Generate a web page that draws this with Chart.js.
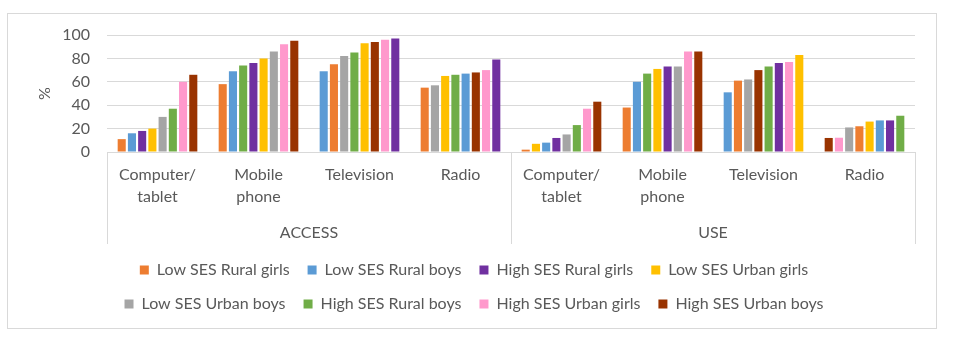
<!DOCTYPE html>
<html>
<head>
<meta charset="utf-8">
<script src="https://cdn.jsdelivr.net/npm/chart.js@4.4.1/dist/chart.umd.min.js"></script>
<style>
  html, body { margin: 0; padding: 0; background: #ffffff; }
  #wrap { width: 959px; height: 342px; }
</style>
</head>
<body>
<div id="wrap"><canvas id="chart" width="959" height="342"></canvas></div>
<script>
// Device categories, grouped under ACCESS and USE
const categories = [
  ['Computer/', 'tablet'], ['Mobile', 'phone'], ['Television'], ['Radio'],
  ['Computer/', 'tablet'], ['Mobile', 'phone'], ['Television'], ['Radio']
];
const groups = ['ACCESS', 'USE'];

const seriesNames = [
  'Low SES Rural girls', 'Low SES Rural boys', 'High SES Rural girls', 'Low SES Urban girls',
  'Low SES Urban boys', 'High SES Rural boys', 'High SES Urban girls', 'High SES Urban boys'
];
const seriesColors = [
  '#ED7D31', '#5B9BD5', '#7030A0', '#FFC000',
  '#A5A5A5', '#70AD47', '#FF99CC', '#993300'
];

// Percentages per category (ACCESS x4, then USE x4)
const lowRuralGirls   = [11, 58, 75, 55,  2, 38, 61, 22];
const lowRuralBoys    = [16, 69, 69, 67,  8, 60, 51, 27];
const highRuralGirls  = [18, 76, 97, 79, 12, 73, 76, 27];
const lowUrbanGirls   = [20, 80, 93, 65,  7, 71, 83, 26];
const lowUrbanBoys    = [30, 86, 82, 57, 15, 73, 62, 21];
const highRuralBoys   = [37, 74, 85, 66, 23, 67, 73, 31];
const highUrbanGirls  = [60, 92, 96, 70, 37, 86, 77, 12.2];
const highUrbanBoys   = [66, 95, 94, 68, 43, 86, 70, 12];

const yTicks = [0, 20, 40, 60, 80, 100];

const seriesValues = [
  lowRuralGirls, lowRuralBoys, highRuralGirls, lowUrbanGirls,
  lowUrbanBoys, highRuralBoys, highUrbanGirls, highUrbanBoys
];

// Within each category the bars run from smallest to largest value,
// so each drawn dataset is one "rank" slot coloured by the series that fills it.
const order = categories.map((_, c) =>
  seriesValues.map((_, s) => s).sort((a, b) => seriesValues[a][c] - seriesValues[b][c])
);
const datasets = seriesNames.map((_, rank) => ({
  label: 'slot ' + (rank + 1),
  data: categories.map((_, c) => seriesValues[order[c][rank]][c]),
  backgroundColor: categories.map((_, c) => seriesColors[order[c][rank]]),
  borderWidth: 0,
  categoryPercentage: 0.81,
  barPercentage: 0.79
}));

const TEXT = '#595959';
const LINE = '#D9D9D9';
const FONT = 'Lato, "Open Sans", sans-serif';
const FS = 16;

// Outer frame and the group separators below the category axis
const framePlugin = {
  id: 'frame',
  beforeDraw(chart) {
    const ctx = chart.ctx;
    ctx.save();
    ctx.fillStyle = '#ffffff';
    ctx.fillRect(0, 0, chart.width, chart.height);
    ctx.strokeStyle = LINE;
    ctx.lineWidth = 1;
    ctx.strokeRect(7.5, 13.5, 929, 315);
    ctx.restore();
  },
  afterDraw(chart) {
    const x = chart.scales.x, x2 = chart.scales.x2;
    const ctx = chart.ctx;
    const perGroup = categories.length / groups.length;
    const edges = [x.left];
    for (let g = 1; g < groups.length; g++) {
      edges.push((x.getPixelForValue(g * perGroup - 1) + x.getPixelForValue(g * perGroup)) / 2);
    }
    edges.push(x.right);
    ctx.save();
    ctx.strokeStyle = LINE;
    ctx.lineWidth = 1;
    edges.forEach(px => {
      const xx = Math.round(px) + 0.5;
      ctx.beginPath();
      ctx.moveTo(xx, x.top);
      ctx.lineTo(xx, x2.bottom);
      ctx.stroke();
    });
    ctx.restore();
  }
};

new Chart(document.getElementById('chart'), {
  type: 'bar',
  data: { labels: categories, datasets },
  plugins: [framePlugin],
  options: {
    responsive: false,
    devicePixelRatio: 1,
    animation: false,
    layout: { padding: { left: 33, right: 44, top: 35, bottom: 20 } },
    plugins: {
      tooltip: { enabled: false },
      legend: {
        position: 'bottom',
        onClick: null,
        labels: {
          boxWidth: 9,
          boxHeight: 9,
          padding: 18,
          color: TEXT,
          font: { family: FONT, size: FS },
          generateLabels: () => seriesNames.map((name, i) => ({
            text: name,
            fillStyle: seriesColors[i],
            strokeStyle: seriesColors[i],
            lineWidth: 0,
            fontColor: TEXT,
            hidden: false,
            datasetIndex: i
          }))
        }
      }
    },
    scales: {
      x: {
        type: 'category',
        position: 'bottom',
        grid: { display: false, drawTicks: false },
        border: { display: true, color: LINE, width: 1 },
        ticks: {
          color: TEXT,
          font: { family: FONT, size: FS, lineHeight: 22 / FS },
          padding: 12,
          maxRotation: 0,
          autoSkip: false
        },
        afterFit: s => { s.height = 58; }
      },
      x2: {
        type: 'category',
        position: 'bottom',
        labels: groups,
        offset: true,
        grid: { display: false, drawTicks: false },
        border: { display: false },
        ticks: {
          color: TEXT,
          font: { family: FONT, size: FS, lineHeight: 1.2 },
          padding: 13,
          maxRotation: 0
        },
        afterFit: s => { s.height = 34; }
      },
      y: {
        min: 0,
        max: 100,
        afterBuildTicks: s => { s.ticks = yTicks.map(v => ({ value: v })); },
        grid: { color: LINE, lineWidth: 1, drawTicks: false },
        border: { display: false },
        ticks: {
          color: TEXT,
          font: { family: FONT, size: FS },
          padding: 17
        },
        title: {
          display: true,
          text: '%',
          color: TEXT,
          font: { family: FONT, size: FS, lineHeight: 1.2 },
          padding: { top: 2, bottom: 0 }
        },
        afterFit: s => { s.width = 74; }
      }
    }
  }
});
</script>
</body>
</html>
